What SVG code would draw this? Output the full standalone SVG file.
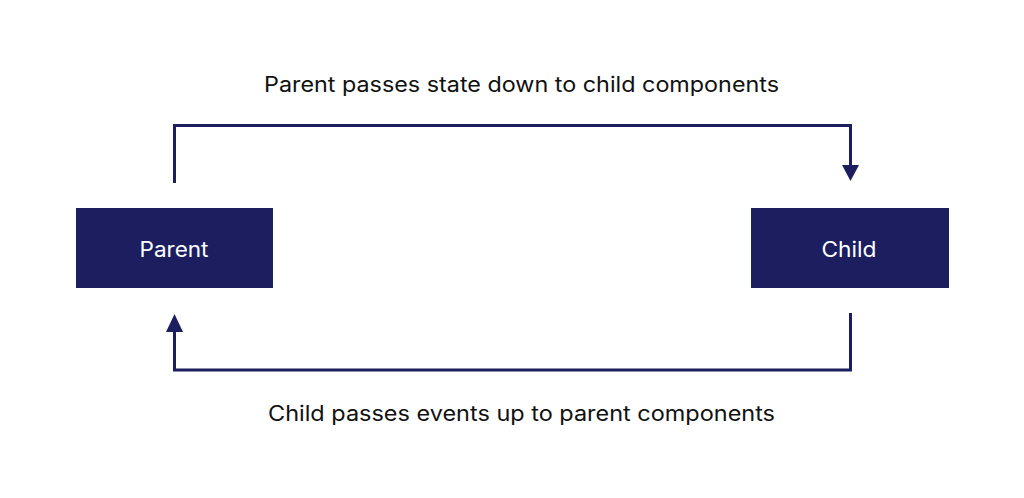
<svg xmlns="http://www.w3.org/2000/svg" width="1024" height="498" viewBox="0 0 1024 498">
<style>
.box{fill:#1c1e5f}
.lbl{font-family:"Inter","Noto Sans","Liberation Sans",sans-serif;font-size:21px;fill:#ffffff;text-anchor:middle}
.cap{font-family:"Inter","Noto Sans","Liberation Sans",sans-serif;font-size:21px;fill:#111111}
.wire{fill:none;stroke:#1c1e5f;stroke-width:3}
.head{fill:#1c1e5f}
</style>
<rect width="1024" height="498" fill="#ffffff"/>
<g id="connectors">
<path class="wire" d="M174.5,183 V125.5 H850.5 V166"/>
<path class="head" d="M842,165 L859,165 L850.5,181 Z"/>
<path class="wire" d="M850.5,313 V370 H174.5 V331"/>
<path class="head" d="M166,332 L183,332 L174.5,314 Z"/>
</g>
<g id="parent">
<rect class="box" x="76" y="208" width="197" height="80"/>
<text class="lbl" x="174" y="256.5" textLength="69" lengthAdjust="spacingAndGlyphs">Parent</text>
</g>
<g id="child">
<rect class="box" x="751" y="208" width="198" height="80"/>
<text class="lbl" x="849" y="256.5" textLength="55" lengthAdjust="spacingAndGlyphs">Child</text>
</g>
<text class="cap" x="264" y="91.5" textLength="515" lengthAdjust="spacingAndGlyphs">Parent passes state down to child components</text>
<text class="cap" x="268" y="421" textLength="507" lengthAdjust="spacingAndGlyphs">Child passes events up to parent components</text>
</svg>
